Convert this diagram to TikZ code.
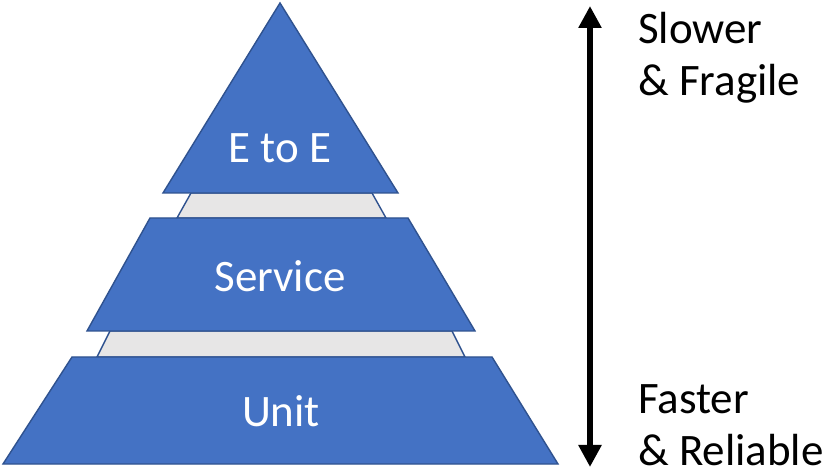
\documentclass[tikz,border=0pt]{standalone}
\usepackage{fontspec}
\setmainfont{Carlito}
\usetikzlibrary{arrows.meta}
\definecolor{layerblue}{HTML}{4472C4}
\definecolor{layeredge}{HTML}{2F528F}
\definecolor{gapgray}{HTML}{E7E6E6}
\tikzset{
  layer/.style={fill=layerblue, draw=layeredge, line width=1.4pt, line join=miter},
  gap/.style={fill=gapgray, draw=layeredge, line width=1.4pt},
  lbl/.style={text=white, font=\fontsize{45}{53}\selectfont, anchor=base, inner sep=0pt},
  side/.style={font=\fontsize{45}{52}\selectfont, align=left, anchor=base west, inner sep=0pt}
}
\begin{document}
\begin{tikzpicture}[x=1pt,y=-1pt]
\useasboundingbox (0,0) rectangle (828,470);
\fill[white] (0,0) rectangle (828,470);

\draw[gap] (191,193) -- (372,193) -- (386,218) -- (177,218) -- cycle;
\draw[gap] (110,331) -- (452,331) -- (465,357) -- (97,357) -- cycle;

\draw[layer] (280,3) -- (398,193) -- (163,193) -- cycle;
\draw[layer] (150,218) -- (408,218) -- (475,331) -- (87,331) -- cycle;
\draw[layer] (72,357) -- (492,357) -- (558,464) -- (3,464) -- cycle;

\node[lbl] (e2e) at (280,163) {E to E};
\node[lbl] (svc) at (280,292) {Service};
\node[lbl] (unit) at (281,427) {Unit};

\coordinate (up) at (590,6);
\coordinate (down) at (590,467);
\draw[line width=6.5pt, {Triangle[length=22pt,width=22pt]}-{Triangle[length=22pt,width=22pt]}] (down) -- (up);

% base = last line
\node[side] (slow) at (638,96) {Slower\\\& Fragile};
\node[side] (fast) at (638,465) {Faster\\\& Reliable};
\end{tikzpicture}
\end{document}
